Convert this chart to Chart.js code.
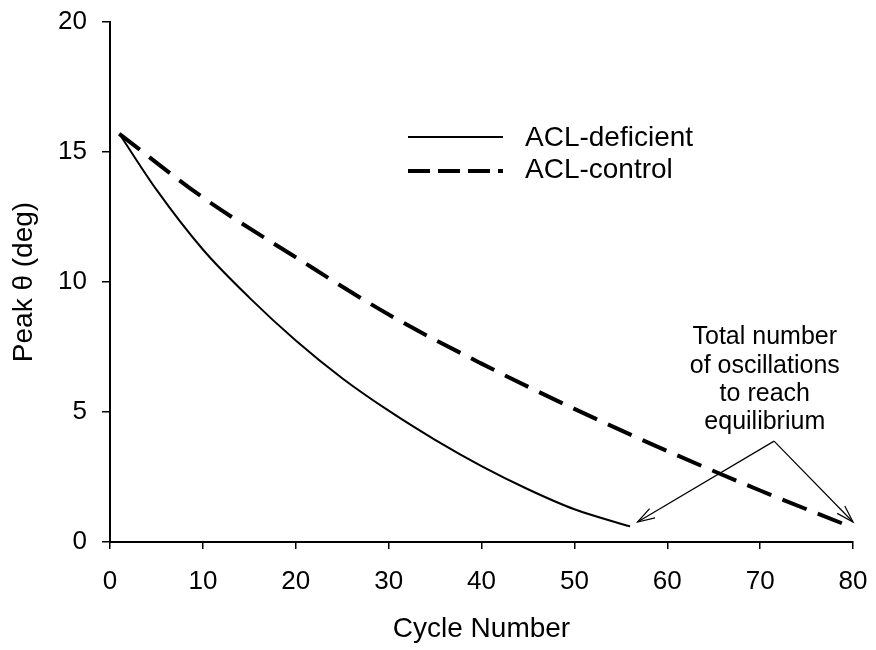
<!DOCTYPE html>
<html><head><meta charset="utf-8">
<script src="https://cdn.jsdelivr.net/npm/chart.js@4"></script>
<style>html,body{margin:0;padding:0;background:#fff}#wrap{width:876px;height:650px}</style>
</head><body><div id="wrap"><canvas id="c" width="876" height="650"></canvas></div>
<script>
const cyclesDeficient = [1, 5, 10, 15, 20, 25, 30, 35, 40, 45, 50, 56];
const peakDeficient   = [15.7, 13.55, 11.25, 9.4, 7.75, 6.3, 5.05, 3.93, 2.92, 2.03, 1.26, 0.6];
const cyclesControl = [1, 10, 20, 30, 40, 50, 60, 70, 80];
const peakControl   = [15.7, 13.25, 10.95, 8.75, 6.86, 5.12, 3.5, 1.98, 0.55];
const seriesNames = ['ACL-deficient', 'ACL-control'];
const annotationLines = ['Total number', 'of oscillations', 'to reach', 'equilibrium'];
const annotationApex = [71.5, 3.88];
const annotationTargets = [[56.8, 0.77], [80, 0.77]];
const annotationTextX = 70.5;
const annotationTextY = [7.88, 6.75, 5.68, 4.62];

const FONT = '"Liberation Sans", Arial, sans-serif';

function noOverflow(s) {
  s.paddingTop = 0; s.paddingBottom = 0; s.paddingLeft = 0; s.paddingRight = 0;
}

const extras = {
  id: 'extras',
  afterDatasetsDraw(chart) {
    const ctx = chart.ctx, xs = chart.scales.x, ys = chart.scales.y;
    ctx.save();
    // legend
    const lx0 = 408, lx1 = 503, ly = [137, 171];
    ctx.strokeStyle = '#000';
    ctx.lineWidth = 2; ctx.setLineDash([]);
    ctx.beginPath(); ctx.moveTo(lx0, ly[0]); ctx.lineTo(lx1, ly[0]); ctx.stroke();
    ctx.lineWidth = 4; ctx.setLineDash([22, 8]);
    ctx.beginPath(); ctx.moveTo(lx0, ly[1]); ctx.lineTo(lx1, ly[1]); ctx.stroke();
    ctx.setLineDash([]);
    ctx.fillStyle = '#000';
    ctx.font = '28px ' + FONT;
    ctx.textAlign = 'left'; ctx.textBaseline = 'middle';
    ctx.fillText(seriesNames[0], 525, 138);
    ctx.fillText(seriesNames[1], 525, 170);
    // annotation text
    ctx.font = '25px ' + FONT;
    ctx.textAlign = 'center';
    const tx = xs.getPixelForValue(annotationTextX);
    annotationLines.forEach((t, i) => ctx.fillText(t, tx, ys.getPixelForValue(annotationTextY[i])));
    // arrows
    const ax = xs.getPixelForValue(annotationApex[0]), ay = ys.getPixelForValue(annotationApex[1]);
    ctx.lineWidth = 1.2;
    annotationTargets.forEach(([vx, vy]) => {
      const px = xs.getPixelForValue(vx), py = ys.getPixelForValue(vy);
      ctx.beginPath(); ctx.moveTo(ax, ay); ctx.lineTo(px, py); ctx.stroke();
      const ang = Math.atan2(py - ay, px - ax), L = 18, w = 0.3;
      ctx.beginPath();
      ctx.moveTo(px - L * Math.cos(ang - w), py - L * Math.sin(ang - w));
      ctx.lineTo(px, py);
      ctx.lineTo(px - L * Math.cos(ang + w), py - L * Math.sin(ang + w));
      ctx.stroke();
    });
    ctx.restore();
  }
};

new Chart(document.getElementById('c'), {
  type: 'scatter',
  data: {
    datasets: [
      { label: seriesNames[0], data: cyclesDeficient.map((x, i) => ({x, y: peakDeficient[i]})),
        showLine: true, borderColor: '#000', borderWidth: 2, pointRadius: 0, cubicInterpolationMode: 'monotone' },
      { label: seriesNames[1], data: cyclesControl.map((x, i) => ({x, y: peakControl[i]})),
        showLine: true, borderColor: '#000', borderWidth: 4, borderDash: [26, 12], pointRadius: 0, cubicInterpolationMode: 'monotone' }
    ]
  },
  options: {
    responsive: false, animation: false, devicePixelRatio: 1,
    layout: { padding: { top: 22, right: 23, left: 0, bottom: 0 } },
    plugins: { legend: { display: false }, tooltip: { enabled: false } },
    scales: {
      x: {
        type: 'linear', min: 0, max: 80,
        ticks: { stepSize: 10, color: '#000', font: { family: FONT, size: 26 }, padding: 17, maxRotation: 0 },
        grid: { drawOnChartArea: false, tickLength: 7, color: '#000', lineWidth: 1.5 },
        border: { color: '#000', width: 2 },
        title: { display: true, text: 'Cycle Number', color: '#000', font: { family: FONT, size: 28 }, padding: { top: 0, bottom: 4 } },
        afterFit(s) { s.height = 108; noOverflow(s); }
      },
      y: {
        type: 'linear', min: 0, max: 20,
        ticks: { stepSize: 5, color: '#000', font: { family: FONT, size: 26 }, padding: 15 },
        grid: { drawOnChartArea: false, tickLength: 8, color: '#000', lineWidth: 1.5 },
        border: { color: '#000', width: 2 },
        title: { display: true, text: 'Peak θ (deg)', color: '#000', font: { family: FONT, size: 28 }, padding: { top: 7, bottom: 0 } },
        afterFit(s) { s.width = 110; noOverflow(s); }
      }
    }
  },
  plugins: [extras]
});
</script></body></html>
